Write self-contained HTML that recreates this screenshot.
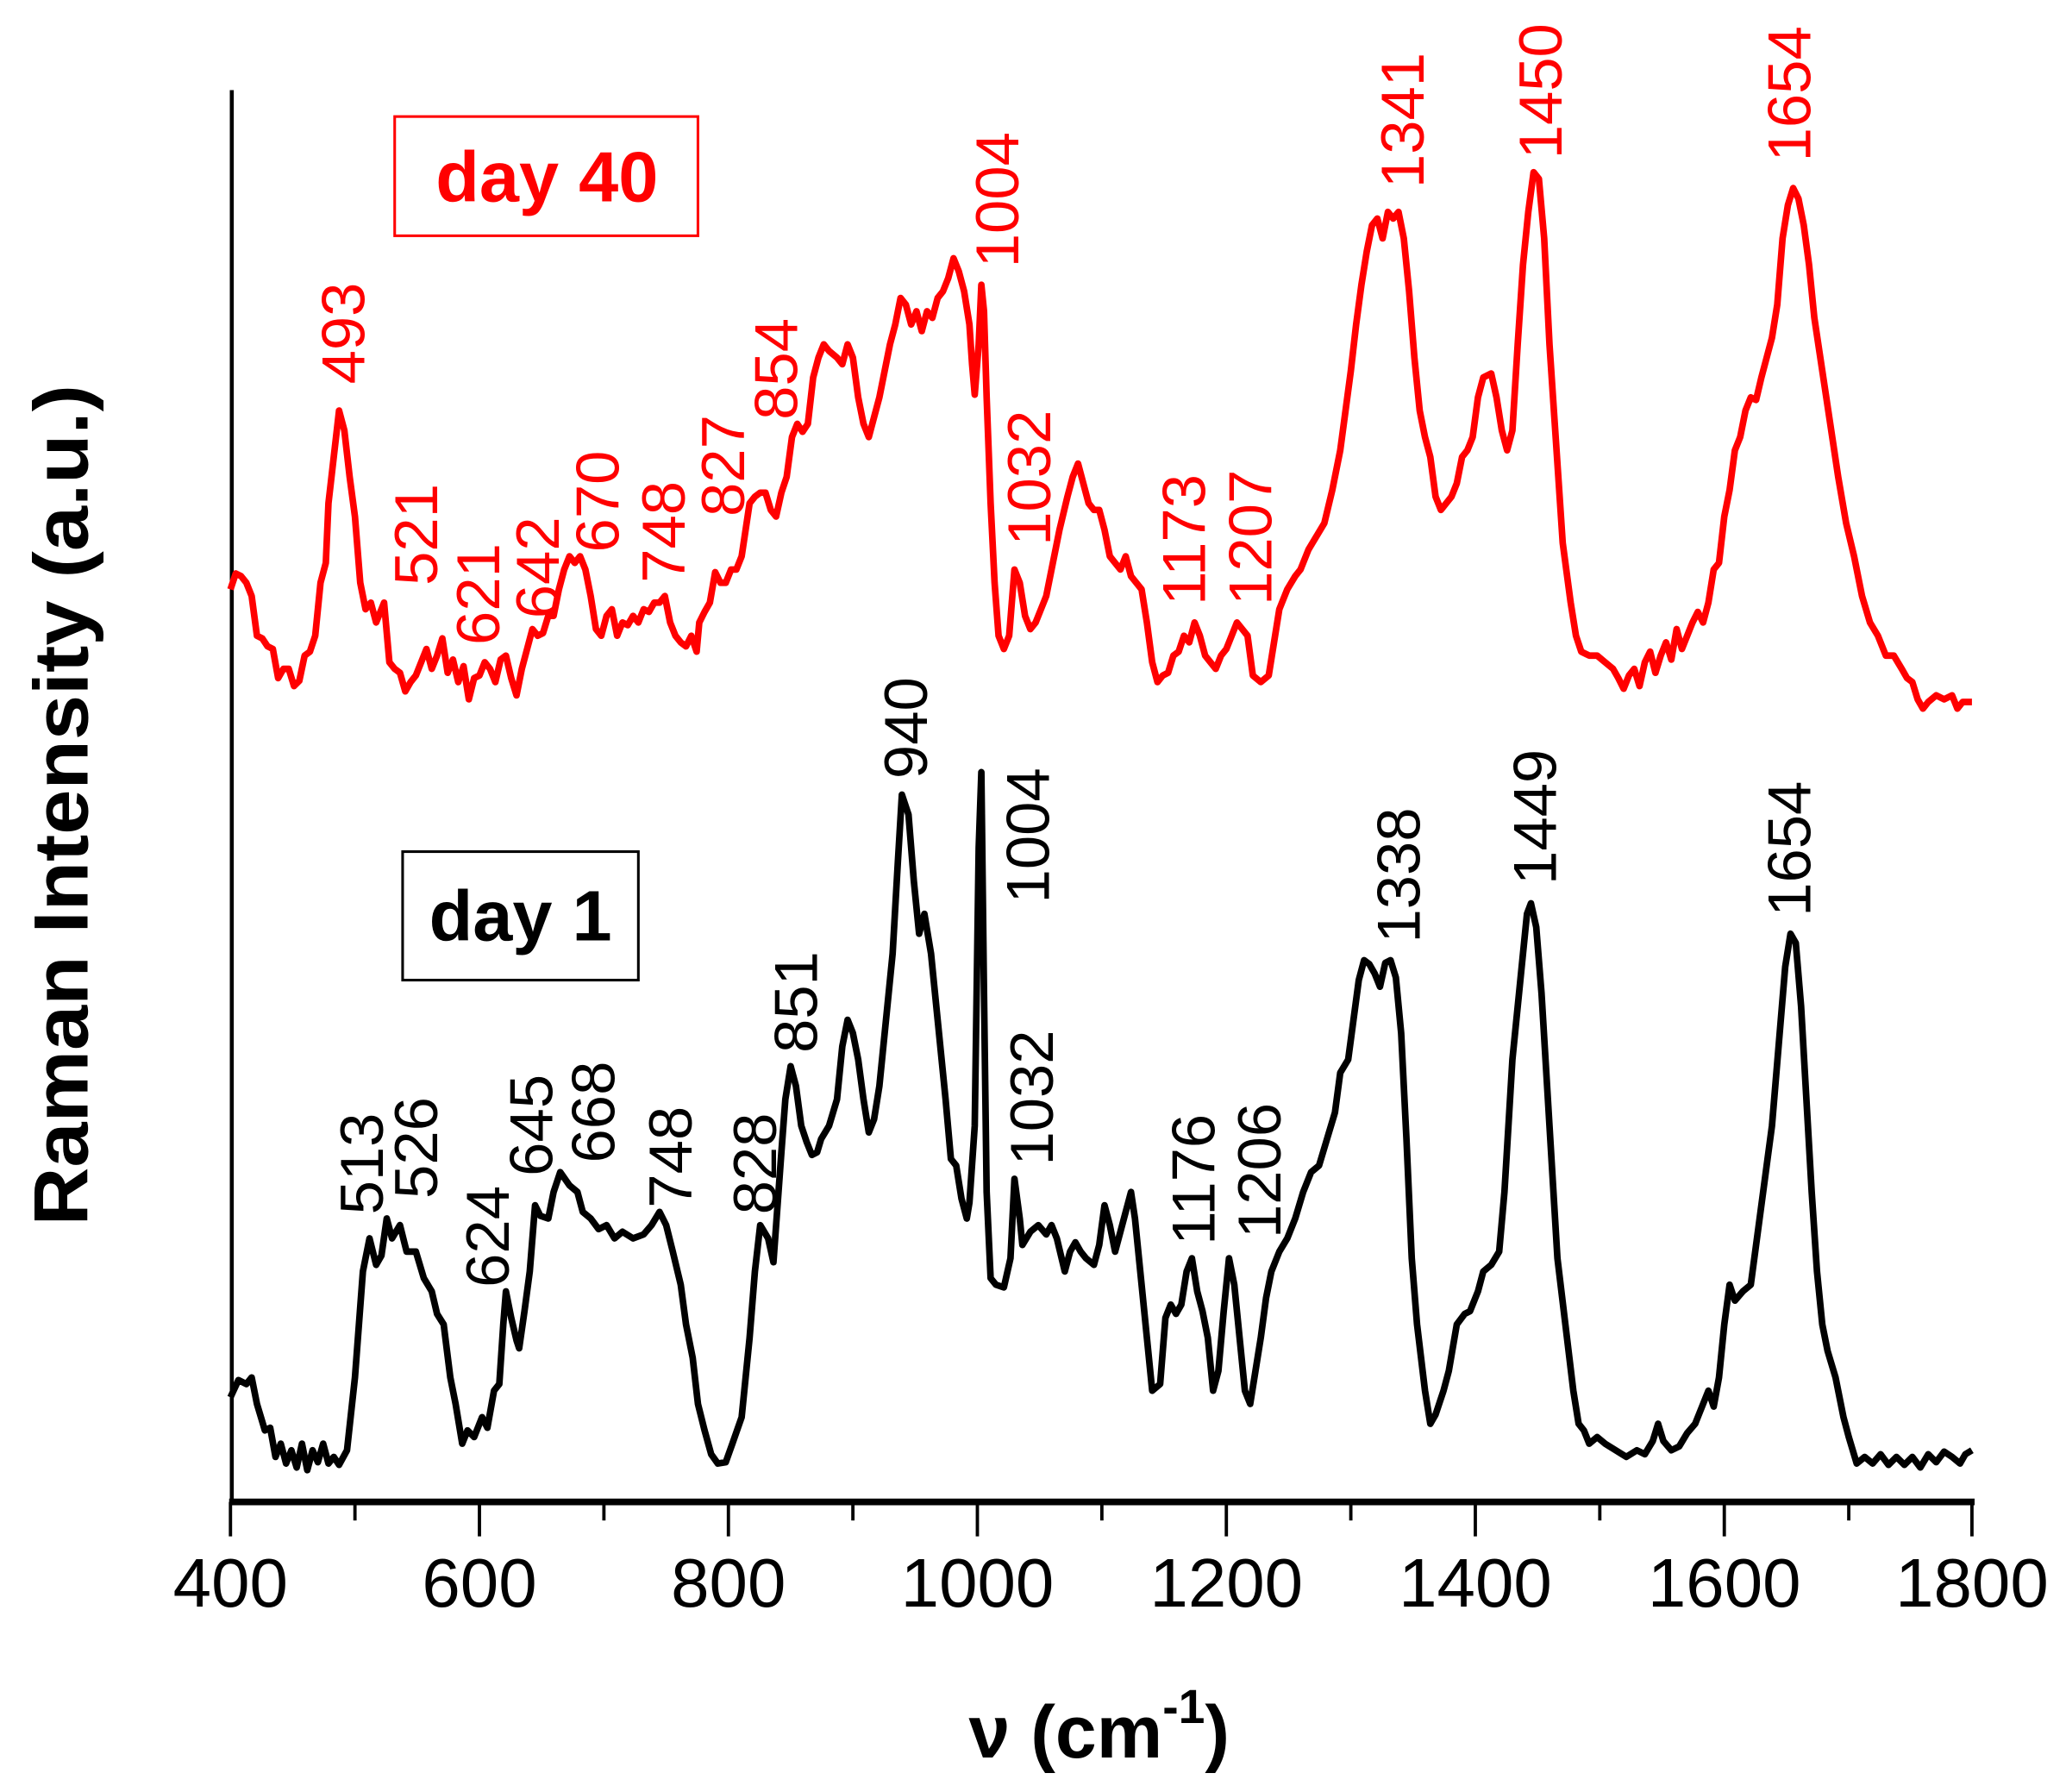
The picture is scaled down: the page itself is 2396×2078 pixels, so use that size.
<!DOCTYPE html>
<html><head><meta charset="utf-8"><style>html,body{margin:0;padding:0;background:#fff}svg{display:block}</style></head>
<body>
<svg width="2396" height="2078" viewBox="0 0 1560 1353" xmlns="http://www.w3.org/2000/svg" font-family="Liberation Sans, Arial, sans-serif">
<rect width="1560" height="1353" fill="#fff"/>
<line x1="175" y1="68" x2="175" y2="1135" stroke="#000" stroke-width="3"/>
<line x1="173" y1="1134" x2="1491" y2="1134" stroke="#000" stroke-width="5"/>
<g stroke="#000" stroke-width="2.5">
<line x1="174" y1="1134" x2="174" y2="1160"/><line x1="362" y1="1134" x2="362" y2="1160"/><line x1="550" y1="1134" x2="550" y2="1160"/><line x1="738" y1="1134" x2="738" y2="1160"/><line x1="926" y1="1134" x2="926" y2="1160"/><line x1="1114" y1="1134" x2="1114" y2="1160"/><line x1="1302" y1="1134" x2="1302" y2="1160"/><line x1="1489" y1="1134" x2="1489" y2="1160"/>
<line x1="268" y1="1134" x2="268" y2="1148"/><line x1="456" y1="1134" x2="456" y2="1148"/><line x1="644" y1="1134" x2="644" y2="1148"/><line x1="832" y1="1134" x2="832" y2="1148"/><line x1="1020" y1="1134" x2="1020" y2="1148"/><line x1="1208" y1="1134" x2="1208" y2="1148"/><line x1="1396" y1="1134" x2="1396" y2="1148"/>
</g>
<g font-size="52" text-anchor="middle" fill="#000">
<text x="174" y="1213">400</text><text x="362" y="1213">600</text><text x="550" y="1213">800</text><text x="738" y="1213">1000</text><text x="926" y="1213">1200</text><text x="1114" y="1213">1400</text><text x="1302" y="1213">1600</text><text x="1489" y="1213">1800</text>
</g>
<text x="830" y="1327" font-size="56" font-weight="bold" text-anchor="middle">ν (cm<tspan font-size="36" dy="-26">-1</tspan><tspan dy="26">)</tspan></text>
<text transform="translate(66,608) rotate(-90)" font-size="58" font-weight="bold" text-anchor="middle" textLength="635" lengthAdjust="spacingAndGlyphs">Raman Intensity (a.u.)</text>

<rect x="298" y="88" width="229" height="90" fill="none" stroke="#f00" stroke-width="2"/>
<text x="413" y="152" font-size="54" font-weight="bold" fill="#f00" text-anchor="middle">day 40</text>
<rect x="304" y="643" width="178" height="97" fill="none" stroke="#000" stroke-width="2"/>
<text x="393" y="710" font-size="54" font-weight="bold" fill="#000" text-anchor="middle">day 1</text>

<polyline fill="none" stroke="#000" stroke-width="5" stroke-linejoin="round" points="
174,1055 180,1042 186,1045 190,1040 194,1060 200,1080 204,1078 208,1100 212,1090 216,1105 220,1095 224,1108 228,1090 232,1110 236,1095 240,1104 244,1090 248,1105 252,1100 256,1106 262,1095 268,1040 274,960 279,935 284,955 288,948 292,920 296,935 302,925 307,945 314,945 320,965 326,975 330,992 335,1000 340,1040 344,1060 349,1090 353,1080 358,1085 364,1070 368,1078 373,1050 377,1045 380,1000 382,975 386,995 390,1012 392,1018 396,990 400,960 404,910 408,918 414,920 418,900 423,885 430,895 436,900 440,915 446,920 452,928 458,925 464,935 470,930 478,935 486,932 492,925 498,915 503,925 508,945 514,970 518,1000 523,1025 527,1060 532,1080 537,1098 542,1105 548,1104 553,1090 560,1070 566,1010 570,960 574,925 580,935 584,953 590,870 593,830 597,805 601,820 605,850 609,862 613,872 617,870 620,860 626,850 632,830 636,790 640,770 644,780 648,800 652,830 656,855 660,845 664,820 668,780 674,720 678,650 681,600 686,615 690,665 694,705 698,690 703,720 708,770 714,830 718,875 722,880 726,905 730,920 732,908 736,850 739,640 741,583 743,750 745,900 748,965 752,970 758,972 763,950 766,890 770,920 772,940 778,930 784,925 790,932 794,925 798,935 804,960 808,945 812,938 816,945 820,950 826,955 830,940 834,910 838,925 842,945 846,930 850,915 854,900 857,920 861,960 866,1010 870,1050 876,1045 880,995 884,985 888,992 892,985 896,960 900,950 904,975 908,990 912,1010 916,1050 920,1035 924,990 928,950 932,970 936,1010 940,1050 944,1060 948,1035 952,1010 956,980 960,960 966,945 972,935 978,920 984,900 990,885 996,880 1002,860 1008,840 1012,810 1018,800 1022,770 1026,740 1030,725 1034,728 1038,735 1042,745 1046,727 1050,725 1054,738 1058,780 1062,860 1066,950 1070,1000 1076,1050 1080,1075 1084,1068 1090,1050 1094,1035 1100,1000 1106,992 1110,990 1116,975 1120,960 1126,955 1132,945 1136,900 1142,800 1148,740 1153,690 1156,682 1160,700 1164,750 1170,850 1176,950 1182,1000 1188,1050 1192,1075 1196,1080 1200,1090 1206,1085 1212,1090 1220,1095 1228,1100 1236,1095 1242,1098 1248,1088 1252,1075 1256,1088 1262,1095 1268,1092 1274,1082 1280,1075 1286,1060 1290,1050 1294,1062 1298,1040 1302,1000 1306,970 1310,982 1316,975 1322,970 1326,940 1330,910 1334,880 1338,850 1343,790 1348,730 1352,705 1356,712 1360,760 1364,830 1368,900 1372,960 1376,1000 1380,1020 1386,1040 1392,1070 1396,1085 1402,1105 1408,1100 1414,1105 1420,1098 1426,1106 1432,1100 1438,1106 1444,1100 1450,1108 1456,1098 1462,1104 1468,1096 1474,1100 1480,1105 1484,1098 1489,1095"/>

<polyline fill="none" stroke="#f00" stroke-width="5" stroke-linejoin="round" points="
174,445 178,433 182,435 186,440 190,450 194,480 198,482 202,488 206,490 210,512 214,505 218,505 222,518 226,514 230,495 234,492 238,480 242,440 246,425 248,380 252,345 256,310 260,325 264,360 268,390 272,440 276,460 280,455 284,470 290,455 294,500 298,505 302,508 306,522 310,515 314,510 318,500 322,490 326,505 330,495 334,482 338,508 342,498 346,515 350,503 354,528 358,512 362,510 366,500 370,505 374,515 378,498 382,495 386,512 390,525 394,505 398,490 402,475 406,480 410,478 414,465 418,465 422,445 426,430 430,420 434,425 438,420 442,430 446,450 450,475 454,480 458,465 462,460 466,480 470,470 474,472 478,465 482,470 486,460 490,462 494,455 498,455 502,450 506,470 510,480 514,485 518,488 522,480 526,492 528,470 532,462 536,455 540,432 544,440 548,440 552,430 556,430 560,420 566,380 570,375 574,372 578,372 582,385 586,390 590,372 594,360 598,330 602,320 606,326 610,320 614,285 618,270 622,260 626,265 632,270 636,275 640,260 644,270 648,300 652,320 656,330 660,315 664,300 668,280 672,260 676,245 680,225 684,230 688,245 692,235 696,250 700,235 704,240 708,225 712,220 716,210 720,195 724,205 728,220 732,245 734,275 736,298 739,260 741,215 743,235 745,300 748,380 751,440 754,480 758,490 762,480 766,430 770,440 774,465 778,475 782,470 786,460 790,450 794,430 800,400 806,375 810,360 814,350 818,365 822,380 826,385 830,385 834,400 838,420 842,425 846,430 850,420 854,435 858,440 862,445 866,470 870,500 874,515 878,510 882,508 886,495 890,492 894,480 898,485 902,470 906,480 910,495 914,500 918,505 922,495 926,490 930,480 934,470 938,475 942,480 946,510 952,515 958,510 962,485 966,460 972,445 978,435 982,430 988,415 994,405 1000,395 1006,370 1012,340 1016,310 1020,280 1024,245 1028,215 1032,190 1036,170 1040,165 1044,180 1048,160 1052,165 1056,160 1060,180 1064,220 1068,270 1072,310 1076,330 1080,345 1084,375 1088,385 1092,380 1096,375 1100,365 1104,345 1108,340 1112,330 1116,300 1120,285 1126,282 1130,300 1134,325 1138,340 1142,325 1146,260 1150,200 1154,160 1158,130 1162,135 1166,180 1170,260 1174,320 1180,410 1186,455 1190,480 1194,492 1200,495 1206,495 1212,500 1218,505 1222,512 1226,520 1230,510 1234,505 1238,518 1242,500 1246,492 1250,508 1254,495 1258,485 1262,498 1266,475 1270,490 1274,480 1278,470 1282,462 1286,470 1290,455 1294,430 1298,425 1302,390 1306,370 1310,340 1314,330 1318,310 1322,300 1326,302 1330,285 1334,270 1338,255 1342,230 1346,180 1350,155 1354,142 1358,150 1362,170 1366,200 1370,240 1376,280 1382,320 1388,360 1394,395 1400,420 1406,450 1412,470 1418,480 1424,495 1430,495 1436,505 1440,512 1444,515 1448,528 1452,535 1456,530 1462,525 1468,528 1474,525 1478,535 1482,530 1489,530"/>

<g font-size="46" fill="#000">
<text transform="translate(289,917) rotate(-90)">513</text>
<text transform="translate(330,905) rotate(-90)">526</text>
<text transform="translate(384,972) rotate(-90)">624</text>
<text transform="translate(417,888) rotate(-90)">645</text>
<text transform="translate(464,878) rotate(-90)">668</text>
<text transform="translate(522,912) rotate(-90)">748</text>
<text transform="translate(586,917) rotate(-90)">828</text>
<text transform="translate(617,795) rotate(-90)">851</text>
<text transform="translate(700,588) rotate(-90)">940</text>
<text transform="translate(792,682) rotate(-90)">1004</text>
<text transform="translate(795,880) rotate(-90)">1032</text>
<text transform="translate(917,940) rotate(-90)">1176</text>
<text transform="translate(967,935) rotate(-90)">1206</text>
<text transform="translate(1072,712) rotate(-90)">1338</text>
<text transform="translate(1175,668) rotate(-90)">1449</text>
<text transform="translate(1367,692) rotate(-90)">1654</text>
</g>
<g font-size="46" fill="#f00">
<text transform="translate(275,290) rotate(-90)">493</text>
<text transform="translate(330,442) rotate(-90)">521</text>
<text transform="translate(377,487) rotate(-90)">621</text>
<text transform="translate(422,467) rotate(-90)">642</text>
<text transform="translate(467,417) rotate(-90)">670</text>
<text transform="translate(517,440) rotate(-90)">748</text>
<text transform="translate(562,390) rotate(-90)">827</text>
<text transform="translate(602,317) rotate(-90)">854</text>
<text transform="translate(769,202) rotate(-90)">1004</text>
<text transform="translate(793,412) rotate(-90)">1032</text>
<text transform="translate(910,457) rotate(-90)">1173</text>
<text transform="translate(960,457) rotate(-90)">1207</text>
<text transform="translate(1075,142) rotate(-90)">1341</text>
<text transform="translate(1179,120) rotate(-90)">1450</text>
<text transform="translate(1367,122) rotate(-90)">1654</text>
</g>
</svg>
</body></html>
